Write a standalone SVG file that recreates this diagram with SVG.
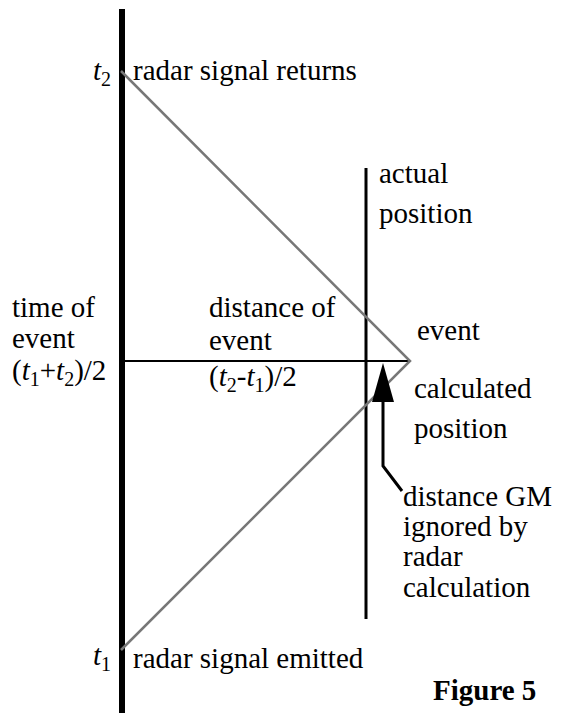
<svg xmlns="http://www.w3.org/2000/svg" width="563" height="713" viewBox="0 0 563 713">
<style>
text{font-family:"Liberation Serif","Times New Roman",serif;font-size:29px;fill:#000}
.it{font-style:italic}
.sub{font-size:20px}
.b{font-weight:bold}
</style>
<rect width="563" height="713" fill="#fff"/>
<g id="connectors">
<line x1="122" y1="9" x2="122" y2="713" stroke="#000" stroke-width="6"/>
<line x1="366" y1="168" x2="366" y2="619" stroke="#000" stroke-width="3"/>
<line x1="122" y1="361" x2="410" y2="361" stroke="#000" stroke-width="2"/>
<polyline points="121,71 410,361 121,650" fill="none" stroke="#777" stroke-width="2.5"/>
<polyline points="402,491 383,466 383,398" fill="none" stroke="#000" stroke-width="3"/>
<polygon points="383,363 372,402 394,402" fill="#000"/>
</g>
<g id="t2"><text x="93" y="80"><tspan class="it">t</tspan><tspan class="sub" dy="6">2</tspan></text></g>
<g id="returns"><text x="133" y="80">radar signal returns</text></g>
<g id="actual"><text x="379" y="183">actual</text><text x="379" y="223">position</text></g>
<g id="time"><text x="12" y="317">time of</text><text x="12" y="348">event</text><text x="12" y="380">(<tspan class="it">t</tspan><tspan class="sub" dy="6">1</tspan><tspan dy="-6">+</tspan><tspan class="it">t</tspan><tspan class="sub" dy="6">2</tspan><tspan dy="-6">)/2</tspan></text></g>
<g id="distance"><text x="209" y="317">distance of</text><text x="209" y="350">event</text><text x="209" y="386">(<tspan class="it">t</tspan><tspan class="sub" dy="6">2</tspan><tspan dy="-6">-</tspan><tspan class="it">t</tspan><tspan class="sub" dy="6">1</tspan><tspan dy="-6">)/2</tspan></text></g>
<g id="event"><text x="417" y="340">event</text></g>
<g id="calculated"><text x="414" y="398">calculated</text><text x="414" y="438">position</text></g>
<g id="gm"><text x="403" y="506">distance GM</text><text x="403" y="536">ignored by</text><text x="403" y="566">radar</text><text x="403" y="597">calculation</text></g>
<g id="t1"><text x="93" y="665"><tspan class="it">t</tspan><tspan class="sub" dy="6">1</tspan></text></g>
<g id="emitted"><text x="133" y="668">radar signal emitted</text></g>
<g id="figure"><text class="b" x="433" y="700">Figure 5</text></g>
</svg>
